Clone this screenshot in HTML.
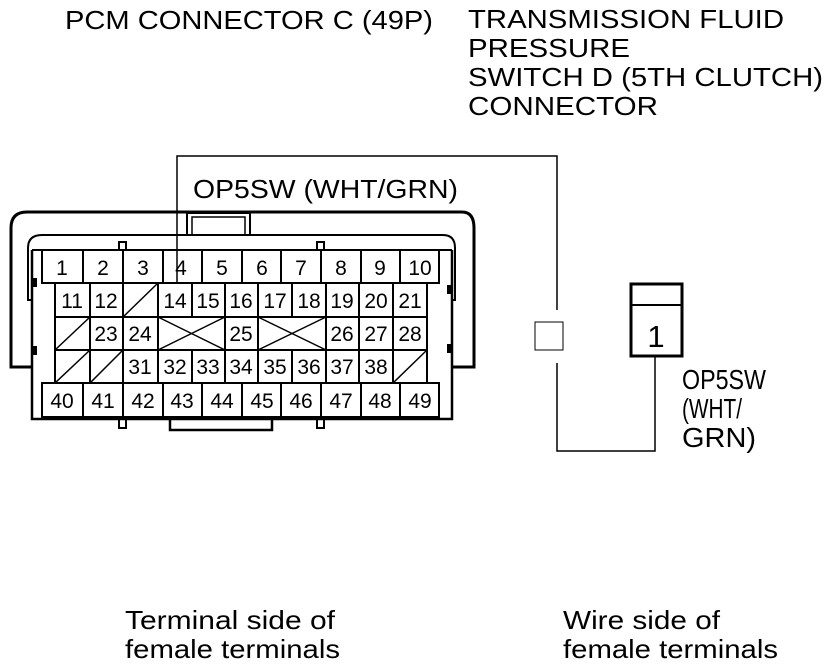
<!DOCTYPE html>
<html><head><meta charset="utf-8"><style>
html,body{margin:0;padding:0;background:#fff}
svg{display:block}
text{font-family:"Liberation Sans",Arial,sans-serif;fill:#000}
</style></head><body>
<svg width="832" height="666" viewBox="0 0 832 666" xmlns="http://www.w3.org/2000/svg">
<g font-size="26">
<text x="65" y="29" textLength="368" lengthAdjust="spacingAndGlyphs">PCM CONNECTOR C (49P)</text>
<text x="468" y="28" textLength="316" lengthAdjust="spacingAndGlyphs">TRANSMISSION FLUID</text>
<text x="468" y="57" textLength="162" lengthAdjust="spacingAndGlyphs">PRESSURE</text>
<text x="468" y="86" textLength="355" lengthAdjust="spacingAndGlyphs">SWITCH D (5TH CLUTCH)</text>
<text x="468" y="115" textLength="190" lengthAdjust="spacingAndGlyphs">CONNECTOR</text>
<text x="193" y="198" textLength="265" lengthAdjust="spacingAndGlyphs">OP5SW (WHT/GRN)</text>
<text x="125" y="629" textLength="210" lengthAdjust="spacingAndGlyphs">Terminal side of</text>
<text x="125" y="658" textLength="215" lengthAdjust="spacingAndGlyphs">female terminals</text>
<text x="563" y="629" textLength="157" lengthAdjust="spacingAndGlyphs">Wire side of</text>
<text x="563" y="658" textLength="215" lengthAdjust="spacingAndGlyphs">female terminals</text>
</g>
<g font-size="28">
<text x="682" y="389" textLength="84" lengthAdjust="spacingAndGlyphs">OP5SW</text>
<text x="682" y="418" textLength="60" lengthAdjust="spacingAndGlyphs">(WHT/</text>
<text x="682" y="447" textLength="74" lengthAdjust="spacingAndGlyphs">GRN)</text>
</g>
<g fill="none" stroke="#000">
<path d="M32,367 H11 V228 Q11,212 27,212 H462 Q474,212 474,228 V367 H452" stroke-width="3"/>
<path d="M32,300 H28 V248 Q28,235 42,235 H443 Q455,235 455,248 V300 H452" stroke-width="2"/>
<rect x="187" y="213" width="63" height="22" stroke-width="2"/>
<rect x="192" y="217" width="53" height="18" stroke-width="1.5"/>
<path d="M32,250 V419 H452 V250" stroke-width="2.5"/>
<path d="M32,250 H42 M439,250 H452" stroke-width="2"/>
<path d="M170,419 V430 H272 V419" stroke-width="2.5"/>
<rect x="119" y="242" width="7" height="8" stroke-width="2"/>
<rect x="317" y="242" width="7" height="8" stroke-width="2"/>
<rect x="119" y="419" width="7" height="9" stroke-width="2"/>
<rect x="317" y="419" width="7" height="9" stroke-width="2"/>
</g>
<g fill="#000">
<rect x="32" y="278" width="5" height="9"/>
<rect x="32" y="346" width="5" height="9"/>
<rect x="447" y="285" width="5" height="9"/>
<rect x="447" y="344" width="5" height="9"/>
</g>
<g fill="none" stroke="#000" stroke-width="2">
<rect x="42" y="250" width="397" height="33"/>
<path d="M83,250V283M123,250V283M163,250V283M202,250V283M242,250V283M281,250V283M321,250V283M361,250V283M400,250V283"/>
<rect x="55" y="283" width="372" height="100"/>
<path d="M55,317H427M55,350H427"/>
<path d="M90,283V317M123,283V317M158,283V317M192,283V317M225,283V317M258,283V317M292,283V317M326,283V317M359,283V317M393,283V317"/>
<path d="M90,317V350M123,317V350M158,317V350M225,317V350M258,317V350M326,317V350M359,317V350M393,317V350"/>
<path d="M90,350V383M123,350V383M158,350V383M192,350V383M225,350V383M258,350V383M292,350V383M326,350V383M359,350V383M393,350V383"/>
<path stroke-width="1.5" d="M123,317L158,283 M55,350L90,317 M55,383L90,350 M90,383L123,350 M393,383L427,350 M158,317L225,350 M158,350L225,317 M258,317L326,350 M258,350L326,317"/>
<rect x="42" y="383" width="397" height="34"/>
<path d="M83,383V417M123,383V417M163,383V417M202,383V417M242,383V417M281,383V417M321,383V417M361,383V417M400,383V417"/>
</g>
<g font-size="21" text-anchor="middle">
<text x="62" y="275">1</text><text x="103" y="275">2</text><text x="143" y="275">3</text><text x="181" y="275">4</text><text x="222" y="275">5</text><text x="262" y="275">6</text><text x="301" y="275">7</text><text x="341" y="275">8</text><text x="380" y="275">9</text><text x="420" y="275">10</text>
<text x="72" y="308">11</text><text x="106" y="308">12</text><text x="175" y="308">14</text><text x="208" y="308">15</text><text x="241" y="308">16</text><text x="275" y="308">17</text><text x="309" y="308">18</text><text x="342" y="308">19</text><text x="376" y="308">20</text><text x="410" y="308">21</text>
<text x="106" y="341">23</text><text x="140" y="341">24</text><text x="241" y="341">25</text><text x="342" y="341">26</text><text x="376" y="341">27</text><text x="410" y="341">28</text>
<text x="140" y="374">31</text><text x="175" y="374">32</text><text x="208" y="374">33</text><text x="241" y="374">34</text><text x="275" y="374">35</text><text x="309" y="374">36</text><text x="342" y="374">37</text><text x="376" y="374">38</text>
<text x="62" y="408">40</text><text x="103" y="408">41</text><text x="143" y="408">42</text><text x="182" y="408">43</text><text x="222" y="408">44</text><text x="262" y="408">45</text><text x="301" y="408">46</text><text x="341" y="408">47</text><text x="380" y="408">48</text><text x="420" y="408">49</text>
</g>
<g fill="none" stroke="#000">
<path d="M177,283 V156 H557 V310" stroke-width="1.5"/>
<rect x="535" y="322" width="28" height="28" stroke-width="1"/>
<path d="M557,363 V451 H655 V357" stroke-width="1.5"/>
<rect x="631" y="284" width="51" height="72" stroke-width="3"/>
<path d="M631,305 H682" stroke-width="2"/>
</g>
<text x="656" y="347" font-size="31" text-anchor="middle">1</text>
</svg>
</body></html>
